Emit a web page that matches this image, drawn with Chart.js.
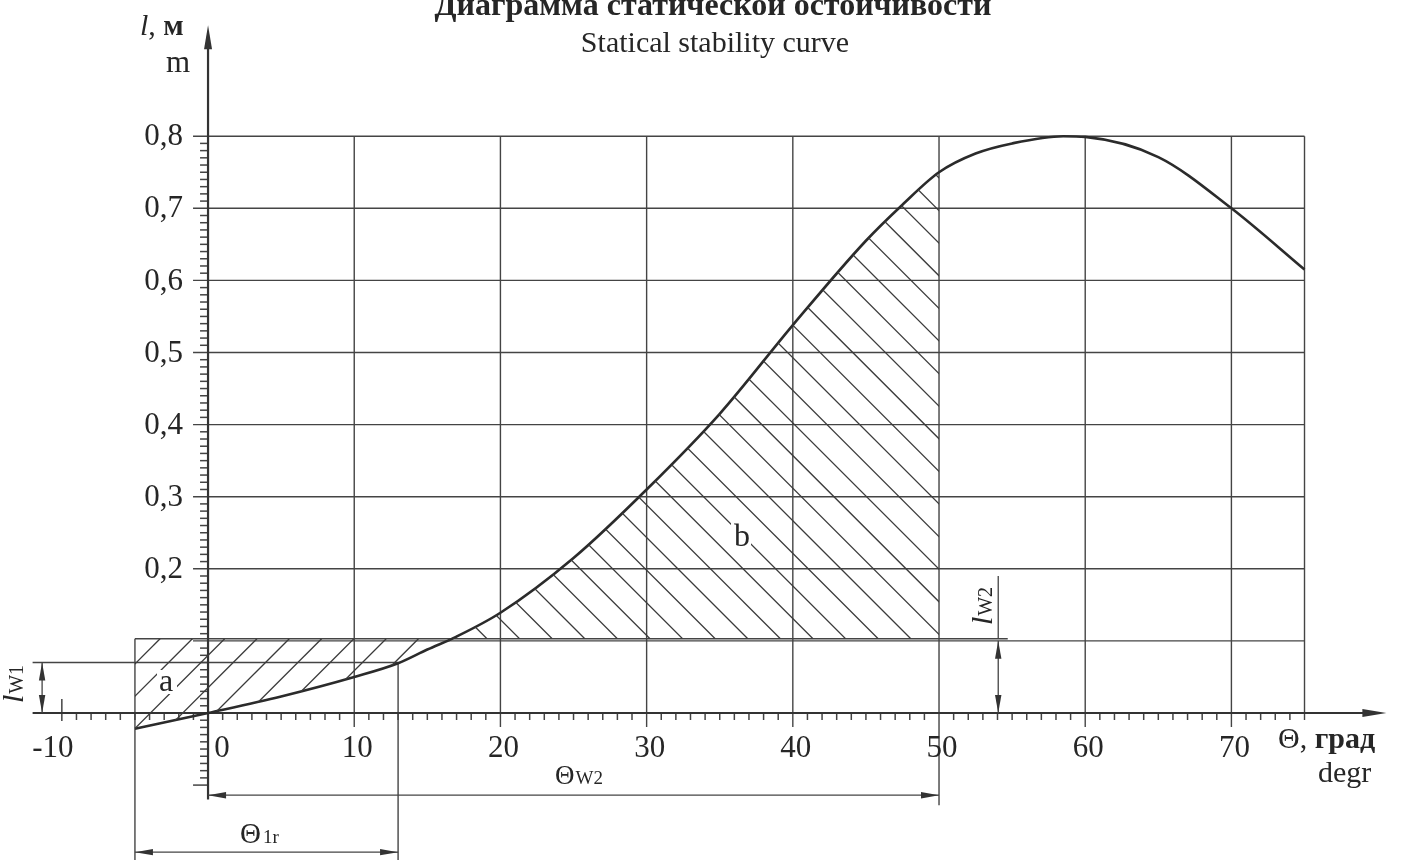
<!DOCTYPE html>
<html>
<head>
<meta charset="utf-8">
<title>Statical stability curve</title>
<script src="https://cdn.jsdelivr.net/npm/chart.js@4.4.1/dist/chart.umd.min.js"></script>
<style>
  html, body { margin: 0; padding: 0; background: #fff; }
  #wrap { width: 1401px; height: 860px; }
</style>
</head>
<body>
<div id="wrap"><canvas id="chart-stability" width="1401" height="860"></canvas></div>
<script>
// Statical stability curve (heel angle vs righting lever)

// heel angle, degrees
const heelAngles = [-5, 0, 5, 10, 13, 15, 17, 20, 25, 30, 35, 40, 45, 47.5, 50, 52.5, 55, 58.5, 60, 65, 70, 75];
// righting lever l, m
const leverArms = [-0.022, 0, 0.023, 0.05, 0.069, 0.088, 0.106, 0.139, 0.215, 0.31, 0.415, 0.538, 0.655, 0.705, 0.75, 0.776, 0.79, 0.80, 0.799, 0.771, 0.70, 0.615];

// axis ticks / grid
const xTickValues = [-10, 0, 10, 20, 30, 40, 50, 60, 70];
const xTickLabels = ['-10', '0', '10', '20', '30', '40', '50', '60', '70'];
const xGridValues = [10, 20, 30, 40, 50, 60, 70, 75];
const yGridValues = [0.1, 0.2, 0.3, 0.4, 0.5, 0.6, 0.7, 0.8];
// 0,1 is left unlabelled (the lw band covers it)
const yTickValues = [0.2, 0.3, 0.4, 0.5, 0.6, 0.7, 0.8];
const yTickLabels = ['0,2', '0,3', '0,4', '0,5', '0,6', '0,7', '0,8'];

// criterion levels
const theta0 = -5;      // roll amplitude (start of area a)
const theta1r = 13;     // end of Θ1r
const thetaW2 = 50;     // end of Θw2
const lw1 = 0.07;
const lw2 = 0.103;

const SERIF = '"Liberation Serif", "Times New Roman", serif';
const INK = '#333';
const GRID = '#444';

function seg(ctx, x1, y1, x2, y2) {
  ctx.beginPath();
  ctx.moveTo(x1, y1);
  ctx.lineTo(x2, y2);
  ctx.stroke();
}

// filled arrow head with its tip at (x, y), pointing in direction ang
function arrowHead(ctx, x, y, ang, len = 18, half = 3.2) {
  ctx.save();
  ctx.translate(x, y);
  ctx.rotate(ang);
  ctx.beginPath();
  ctx.moveTo(0, 0);
  ctx.lineTo(-len, -half);
  ctx.lineTo(-len, half);
  ctx.closePath();
  ctx.fill();
  ctx.restore();
}

// dimension line with arrows on both ends
function dimLine(ctx, x1, y1, x2, y2) {
  seg(ctx, x1, y1, x2, y2);
  const ang = Math.atan2(y2 - y1, x2 - x1);
  arrowHead(ctx, x2, y2, ang);
  arrowHead(ctx, x1, y1, ang + Math.PI);
}

// text made of several font runs
function textWidth(ctx, parts) {
  let w = 0;
  parts.forEach(p => { ctx.font = p.font; w += ctx.measureText(p.text).width + (p.gap || 0); });
  return w;
}
function drawRuns(ctx, x, y, parts) {
  parts.forEach(p => {
    ctx.font = p.font;
    ctx.fillText(p.text, x, y + (p.dy || 0));
    x += ctx.measureText(p.text).width + (p.gap || 0);
  });
}

// 45 degree hatch lines; dir 1 = '/', -1 = '\'
function hatch(ctx, rect, x0, refY, spacing, dir) {
  const h = rect.bottom - rect.top;
  const kMin = Math.floor((rect.left - h - x0) / spacing) - 2;
  const kMax = Math.ceil((rect.right + h - x0) / spacing) + 2;
  for (let k = kMin; k <= kMax; k++) {
    const xr = x0 + k * spacing; // crossing of refY
    const xTop = xr + dir * (refY - rect.top);
    const xBot = xr + dir * (refY - rect.bottom);
    seg(ctx, xTop, rect.top, xBot, rect.bottom);
  }
}

function clipCurveSide(ctx, chart, side) {
  const meta = chart.getDatasetMeta(0);
  const pts = meta.data;
  const edge = side === 'above' ? -10 : chart.height + 10;
  ctx.beginPath();
  meta.dataset.path(ctx);
  ctx.lineTo(pts[pts.length - 1].x, edge);
  ctx.lineTo(pts[0].x, edge);
  ctx.closePath();
  ctx.clip();
}

const diagramPlugin = {
  id: 'stabilityDiagram',
  beforeDraw(chart) {
    const { ctx, width, height } = chart;
    ctx.save();
    ctx.fillStyle = '#fff';
    ctx.fillRect(0, 0, width, height);
    ctx.restore();
  },
  beforeDatasetsDraw(chart) {
    const { ctx } = chart;
    const xs = chart.scales.x, ys = chart.scales.y;
    const X = v => xs.getPixelForValue(v);
    const Y = v => ys.getPixelForValue(v);

    ctx.save();
    ctx.strokeStyle = GRID;
    ctx.fillStyle = INK;
    ctx.lineWidth = 1.4;

    // grid
    yGridValues.forEach(v => seg(ctx, X(0) - 15, Y(v), X(75), Y(v)));
    xGridValues.forEach(v => {
      let bottom = Y(0) + 14;
      if (v === thetaW2) bottom = Y(-0.128);
      if (v === 75) bottom = Y(0) + 7;
      seg(ctx, X(v), Y(0.8), X(v), bottom);
    });

    // criterion lines
    seg(ctx, X(theta0), Y(lw2), X(54.7), Y(lw2));
    seg(ctx, X(-12), Y(lw1), X(theta1r), Y(lw1));
    seg(ctx, X(theta0), Y(lw2), X(theta0), chart.height);
    seg(ctx, X(theta1r), Y(lw1), X(theta1r), chart.height);

    // minor ticks on x axis
    ctx.lineWidth = 1.5;
    for (let t = -10; t <= 75; t++) {
      if (t === 0 || (t % 10 === 0 && t > 0) || t === 75) continue;
      if (t === -10) { seg(ctx, X(t), Y(0) - 14, X(t), Y(0) + 8); continue; }
      seg(ctx, X(t), Y(0), X(t), Y(0) + 7);
    }
    // minor ticks on y axis
    for (let i = -10; i <= 80; i++) {
      if (i >= 0 && i % 10 === 0) continue;
      const len = i === -10 ? 15 : 8;
      seg(ctx, X(0) - len, Y(i / 100), X(0), Y(i / 100));
    }

    // axes with arrows
    ctx.strokeStyle = INK;
    ctx.lineWidth = 2.2;
    const xTip = X(80.6), yTip = Y(0.954);
    seg(ctx, X(-12), Y(0), xTip - 10, Y(0));
    arrowHead(ctx, xTip, Y(0), 0, 24, 4);
    seg(ctx, X(0), Y(-0.12), X(0), yTip + 10);
    arrowHead(ctx, X(0), yTip, -Math.PI / 2, 24, 4);
    ctx.restore();
  },
  afterDatasetsDraw(chart) {
    const { ctx } = chart;
    const xs = chart.scales.x, ys = chart.scales.y;
    const X = v => xs.getPixelForValue(v);
    const Y = v => ys.getPixelForValue(v);

    // hatched areas a and b
    ctx.save();
    ctx.strokeStyle = '#3a3a3a';
    ctx.lineWidth = 1.3;
    ctx.save();
    const rectA = { left: X(theta0), right: X(30), top: Y(lw2), bottom: Y(-0.05) };
    ctx.beginPath();
    ctx.rect(rectA.left, rectA.top, rectA.right - rectA.left, rectA.bottom - rectA.top);
    ctx.clip();
    clipCurveSide(ctx, chart, 'above');
    hatch(ctx, rectA, X(-3.28), Y(lw2), 32.3, 1);
    ctx.restore();

    ctx.save();
    const rectB = { left: X(10), right: X(thetaW2), top: Y(0.85), bottom: Y(lw2) };
    ctx.beginPath();
    ctx.rect(rectB.left, rectB.top, rectB.right - rectB.left, rectB.bottom - rectB.top);
    ctx.clip();
    clipCurveSide(ctx, chart, 'below');
    hatch(ctx, rectB, X(19.08), Y(lw2), 32.6, -1);
    ctx.restore();
    ctx.restore();

    ctx.save();
    ctx.strokeStyle = GRID;
    ctx.fillStyle = INK;
    ctx.lineWidth = 1.3;

    // dimension lines
    dimLine(ctx, X(-11.35), Y(0), X(-11.35), Y(lw1));
    dimLine(ctx, X(54.05), Y(0), X(54.05), Y(lw2) + 2);
    seg(ctx, X(54.05), Y(lw2), X(54.05), Y(0.19));
    dimLine(ctx, X(0), Y(-0.114), X(thetaW2), Y(-0.114));
    dimLine(ctx, X(theta0), Y(-0.193), X(theta1r), Y(-0.193));

    ctx.fillStyle = '#262626';
    ctx.textBaseline = 'alphabetic';

    // titles
    ctx.textAlign = 'center';
    ctx.font = 'bold 32px ' + SERIF;
    ctx.fillText('Диаграмма статической остойчивости', 713, 15);
    ctx.font = '30px ' + SERIF;
    ctx.fillText('Statical stability curve', 715, 52);

    // tick labels
    ctx.font = '31px ' + SERIF;
    ctx.textAlign = 'right';
    ctx.textBaseline = 'middle';
    yTickValues.forEach((v, i) => ctx.fillText(yTickLabels[i], X(0) - 25, Y(v) + 1));
    ctx.textAlign = 'center';
    ctx.textBaseline = 'alphabetic';
    xTickValues.forEach((v, i) => {
      let dx = 3;
      if (v === 0) dx = 14;
      if (v === -10) dx = -9;
      ctx.fillText(xTickLabels[i], X(v) + dx, Y(0) + 44);
    });

    // axis titles
    ctx.textAlign = 'left';
    drawRuns(ctx, 140, 35, [
      { text: 'l', font: 'italic 30px ' + SERIF },
      { text: ', ', font: '30px ' + SERIF },
      { text: 'м', font: 'bold 30px ' + SERIF }
    ]);
    ctx.font = '31px ' + SERIF;
    ctx.fillText('m', 166, 72);
    drawRuns(ctx, 1278, 748, [
      { text: 'Θ', font: '30px ' + SERIF },
      { text: ', ', font: '30px ' + SERIF },
      { text: 'град', font: 'bold 30px ' + SERIF }
    ]);
    ctx.font = '30px ' + SERIF;
    ctx.fillText('degr', 1318, 782);

    // area letters, with paper showing behind them
    ctx.font = '32px ' + SERIF;
    ctx.fillStyle = '#fff';
    ctx.fillRect(157, 670, 20, 24);
    ctx.fillRect(731, 522, 20, 27);
    ctx.fillStyle = '#262626';
    ctx.fillText('a', 159, 691);
    ctx.fillText('b', 734, 546);

    // dimension labels
    drawRuns(ctx, 555, 784, [
      { text: 'Θ', font: '27px ' + SERIF, gap: 1 },
      { text: 'W2', font: '19px ' + SERIF }
    ]);
    drawRuns(ctx, 240, 843, [
      { text: 'Θ', font: '29px ' + SERIF, gap: 2 },
      { text: '1r', font: '19px ' + SERIF }
    ]);

    const lwParts = n => [
      { text: 'l', font: 'italic 30px ' + SERIF, gap: 1 },
      { text: 'W' + n, font: '20px ' + SERIF }
    ];
    [[23, 684, '1'], [992, 606, '2']].forEach(([bx, cy, n]) => {
      const parts = lwParts(n);
      const w = textWidth(ctx, parts);
      ctx.save();
      ctx.translate(bx, cy);
      ctx.rotate(-Math.PI / 2);
      drawRuns(ctx, -w / 2, 0, parts);
      ctx.restore();
    });
    ctx.restore();
  }
};

const ctx = document.getElementById('chart-stability').getContext('2d');
new Chart(ctx, {
  type: 'line',
  data: {
    datasets: [{
      label: 'l(Θ)',
      data: heelAngles.map((x, i) => ({ x, y: leverArms[i] })),
      borderColor: '#2b2b2b',
      borderWidth: 2.6,
      pointRadius: 0,
      cubicInterpolationMode: 'monotone',
      fill: false
    }]
  },
  options: {
    responsive: false,
    animation: false,
    devicePixelRatio: 1,
    events: [],
    layout: { padding: 0 },
    plugins: {
      legend: { display: false },
      tooltip: { enabled: false }
    },
    scales: {
      x: { type: 'linear', min: -14.23, max: 81.6, display: false },
      y: { type: 'linear', min: -0.2039, max: 0.9889, display: false }
    }
  },
  plugins: [diagramPlugin]
});
</script>
</body>
</html>
